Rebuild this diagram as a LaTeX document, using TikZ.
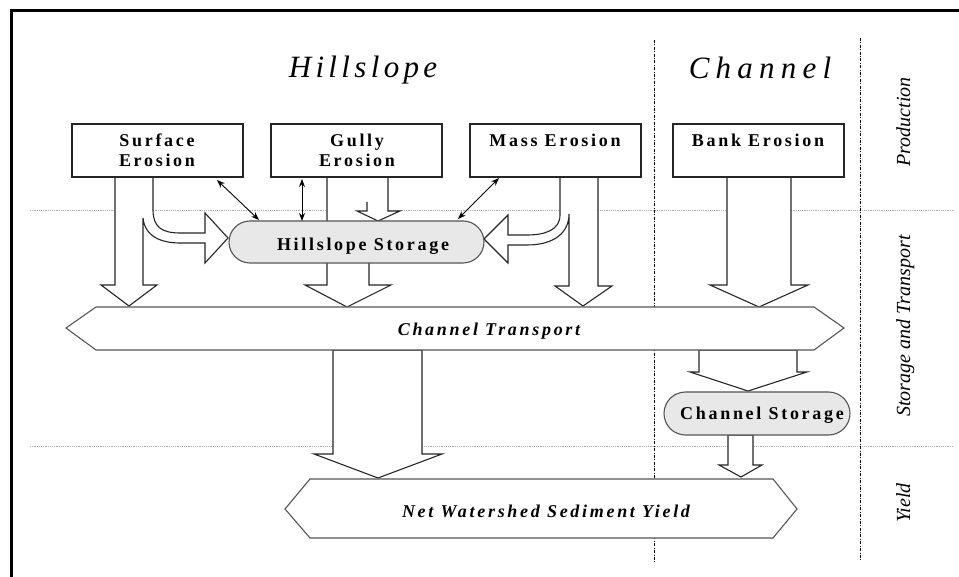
\documentclass[tikz,border=0pt]{standalone}
\usepackage{fontspec}
\setmainfont{Liberation Serif}
\newfontfamily\spcfont[LetterSpace=15]{Liberation Serif}
\newfontfamily\titlefont[LetterSpace=14]{Liberation Serif}
\newfontfamily\chtitlefont[LetterSpace=20]{Liberation Serif}
\usetikzlibrary{arrows.meta,shapes.misc}
\definecolor{boxline}{HTML}{262626}
\definecolor{arrline}{HTML}{262626}
\definecolor{hexline}{HTML}{555555}
\definecolor{storefill}{HTML}{E8E8E8}
\definecolor{guidegray}{HTML}{AAAAAA}
\tikzset{
  box/.style={draw=boxline, line width=1.1pt, fill=white, minimum width=171pt, minimum height=53pt, inner sep=0pt},
  store/.style={rounded rectangle, draw=hexline, fill=storefill, line width=1.1pt, inner sep=0pt},
  lbl/.style={anchor=base, inner sep=0pt, font=\spcfont\bfseries\fontsize{18}{20}\selectfont},
  ilbl/.style={anchor=base, inner sep=0pt, font=\spcfont\bfseries\itshape\fontsize{18}{20}\selectfont},
  side/.style={anchor=base, inner sep=0pt, rotate=90, font=\itshape\fontsize{20}{22}\selectfont},
  blk/.style={draw=arrline, fill=white, line width=1.1pt, line join=miter},
  hexa/.style={draw=hexline, fill=white, line width=1.1pt, line join=miter},
  thin/.style={draw=black, line width=0.9pt, {Stealth[length=8pt,width=6pt]}-{Stealth[length=8pt,width=6pt]}},
  guide/.style={draw=guidegray, line width=0.8pt, dash pattern=on 1.2pt off 1pt},
  sepline/.style={draw=black, line width=0.8pt, dash pattern=on 3pt off 1.5pt on 0.8pt off 1.5pt},
  frame/.style={draw=black, line width=3pt}
}
\begin{document}
\begin{tikzpicture}[x=1pt,y=-1pt]
\useasboundingbox (0,0) rectangle (959,577);
\fill[white] (0,0) rectangle (959,577);
% frame
\draw[frame] (11.5,577) -- (11.5,10.5) -- (959,10.5);
% guide lines
\draw[guide] (30,210) -- (952,210);
\draw[guide] (30,446) -- (952,446);
\draw[sepline] (654,40) -- (654,563);
\draw[sepline] (860,38) -- (860,560);
% titles
\node[anchor=base, inner sep=0pt, font=\titlefont\itshape\fontsize{31}{34}\selectfont] (thill) at (363,78) {Hillslope};
\node[anchor=base, inner sep=0pt, font=\chtitlefont\itshape\fontsize{31}{34}\selectfont] (tchan) at (760,79) {Channel};
% side labels
\node[side] (sprod) at (910,122) {Production};
\node[side] (sstor) at (910,326) {Storage and Transport};
\node[side] (syield) at (910,503) {Yield};
% block arrows
\draw[blk] (115,177) -- (115,285) -- (101,285) -- (129,306) -- (157,285) -- (143,285) -- (143,218)
  .. controls (145,237) and (162,243) .. (180,243) -- (205,243) -- (205,263) -- (228,238) -- (205,213) -- (205,233) -- (180,233)
  .. controls (162,233) and (153,227) .. (153,210) -- (153,177) -- cycle;
\fill[white] (327,177) -- (327,285) -- (305,285) -- (347,307) -- (391,285) -- (369,285) -- (369,177) -- cycle;
\draw[blk, fill=none] (327,177) -- (327,285) -- (305,285) -- (347,307) -- (391,285) -- (369,285) -- (369,263);
\fill[white] (367,177) -- (367,211) -- (357,211) -- (378,221) -- (400,211) -- (388,211) -- (388,177) -- cycle;
\draw[blk, fill=none] (367,202) -- (367,211) -- (357,211) -- (378,221) -- (400,211) -- (388,211) -- (388,177);
\draw[blk] (560,177) -- (560,215) .. controls (560,230) and (545,235) .. (527,235) -- (508,235) -- (508,215) -- (484,239) -- (508,263) -- (508,245) -- (527,245)
  .. controls (555,245) and (569,232) .. (569,214) -- (569,286) -- (555,286) -- (583,306) -- (612,286) -- (598,286) -- (598,177) -- cycle;
\draw[blk] (727,177) -- (727,285) -- (710,285) -- (759,307) -- (808,285) -- (791,285) -- (791,177) -- cycle;
\draw[blk] (699,350) -- (699,372) -- (690,372) -- (748,391) -- (807,372) -- (797,372) -- (797,350) -- cycle;
\draw[blk] (728,435) -- (728,465) -- (719,465) -- (741,477) -- (762,465) -- (753,465) -- (753,435) -- cycle;
\draw[blk] (333,350) -- (333,454) -- (314,454) -- (378,478) -- (442,454) -- (422,454) -- (422,350) -- cycle;
% production boxes
\node[box] (surf) at (157.5,150.5) {};
\node[box] (gully) at (356.5,150.5) {};
\node[box] (mass) at (555.5,150.5) {};
\node[box] (bank) at (758.5,150.5) {};
\node[lbl] (surf1) at (157,147) {Surface};
\node[lbl] (surf2) at (157,167) {Erosion};
\node[lbl] (gully1) at (357,147) {Gully};
\node[lbl] (gully2) at (357,167) {Erosion};
\node[lbl] (mass1) at (555,147) {Mass Erosion};
\node[lbl] (bank1) at (758,147) {Bank Erosion};
% storages
\node[store, minimum width=255pt, minimum height=42pt] (hstore) at (356.5,242) {};
\node[lbl] (hstoret) at (363,251) {Hillslope Storage};
\node[store, minimum width=186pt, minimum height=43pt] (cstore) at (757,413.5) {};
\node[lbl] (cstoret) at (762,420) {Channel Storage};
% transport and yield
\draw[hexa] (66,328) -- (96,307) -- (814,307) -- (844,328) -- (814,350) -- (96,350) -- cycle;
\node[ilbl] (trans) at (489,336) {Channel Transport};
\draw[hexa] (285,509) -- (310,479) -- (773,479) -- (797,509) -- (773,538) -- (310,538) -- cycle;
\node[ilbl] (yield) at (546,517) {Net Watershed Sediment Yield};
% exchange arrows
\coordinate (a1) at (217,180); \coordinate (b1) at (259,220);
\coordinate (a2) at (302,179); \coordinate (b2) at (302,221);
\coordinate (a3) at (499,178); \coordinate (b3) at (458,219);
\draw[thin] (a1) -- (b1);
\draw[thin] (a2) -- (b2);
\draw[thin] (a3) -- (b3);
\end{tikzpicture}
\end{document}
